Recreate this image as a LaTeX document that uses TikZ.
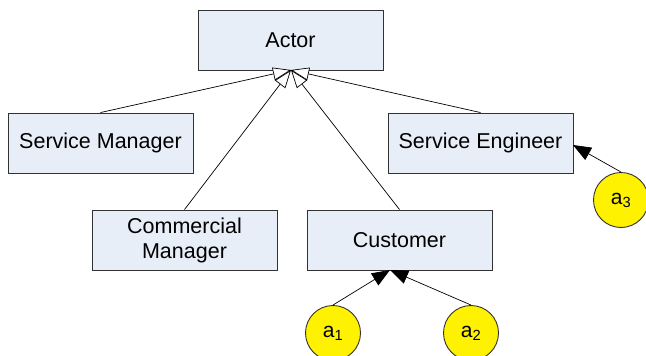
\documentclass[tikz,border=0pt]{standalone}
\usepackage{fontspec}
\setmainfont{Liberation Sans}
\usetikzlibrary{arrows.meta}
\definecolor{boxfill}{RGB}{232,238,247}
\definecolor{boxline}{RGB}{50,50,50}
\tikzset{
  cls/.style={draw=boxline, fill=boxfill, line width=0.9pt, minimum width=185pt, minimum height=60pt, font=\fontsize{21.5}{25}\selectfont, align=center, inner sep=0pt},
  inst/.style={circle, draw=boxline, fill=yellow, line width=0.9pt, minimum size=55pt, inner sep=0pt, font=\fontsize{21}{25}\selectfont},
  gen/.style={line width=0.7pt, -{Triangle[open, length=18pt, width=13pt, fill=white]}},
  link/.style={line width=0.7pt, -{Triangle[length=18pt, width=14pt]}}
}
\begin{document}
\begin{tikzpicture}[x=1pt, y=-1pt]
\useasboundingbox (0,0) rectangle (646,356);
\node[cls] (actor) at (290.5,40) {Actor};
\node[cls] (sm) at (100.5,143) {Service Manager};
\node[cls] (se) at (480.5,143) {Service Engineer};
\node[cls] (cm) at (184.5,240) {Commercial\\Manager};
\node[cls] (cu) at (399.5,240) {Customer};
\node[inst] (a1) at (333,333) {a\textsubscript{1}};
\node[inst] (a2) at (471,333) {a\textsubscript{2}};
\node[inst] (a3) at (621,200) {a\textsubscript{3}};
\coordinate (apex) at (291,70);
\coordinate (cutip) at (390,270);
\coordinate (setip) at (573,145);
% generalisations into Actor
\draw[gen] (sm.north) -- (apex);
\draw[gen] (se.north) -- (apex);
\draw[gen] (cm.north) -- (apex);
\draw[gen] (cu.north) -- (apex);
% instance links
\draw[link] (a1.north) -- (cutip);
\draw[link] (a2.north) -- (cutip);
\draw[link] (a3.north) -- (setip);
\end{tikzpicture}
\end{document}
